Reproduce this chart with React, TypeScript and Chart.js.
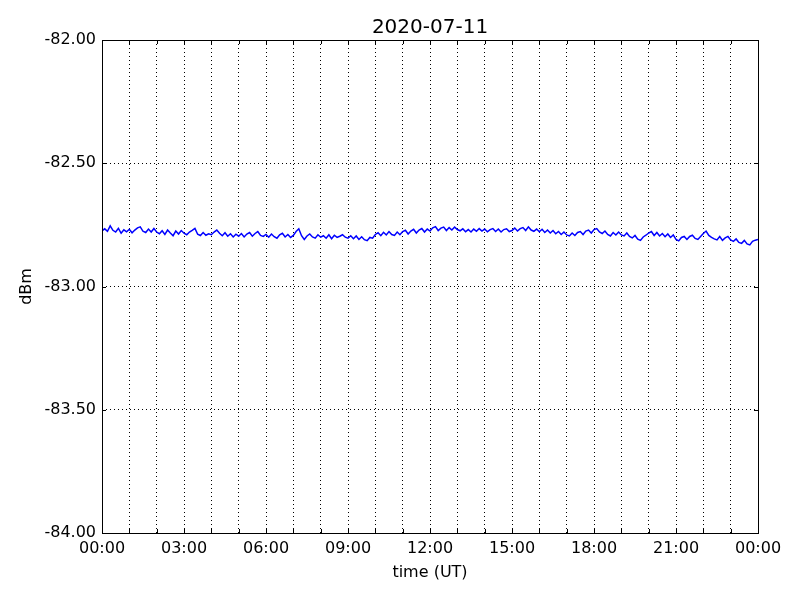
import React, { useEffect, useRef } from "react";
import { Chart, registerables } from "chart.js";

Chart.register(...registerables);

const chartTitle = "2020-07-11";
const xAxisTitle = "time (UT)";
const yAxisTitle = "dBm";
const sampleStepHours = 0.1; // one reading every 6 minutes
const yTickValues = [-84, -83.5, -83, -82.5, -82];

// Signal level (dBm), 6-minute samples from 00:00 to 24:00 UT
const signalDbm = [
  // 00h
  -82.774, -82.766, -82.776, -82.754, -82.772, -82.779, -82.764, -82.784, -82.770, -82.778,
  // 01h
  -82.768, -82.782, -82.771, -82.762, -82.758, -82.776, -82.781, -82.767, -82.779, -82.765,
  // 02h
  -82.779, -82.786, -82.774, -82.789, -82.771, -82.783, -82.794, -82.775, -82.787, -82.773,
  // 03h
  -82.784, -82.790, -82.779, -82.772, -82.764, -82.788, -82.793, -82.781, -82.792, -82.786,
  // 04h
  -82.790, -82.779, -82.771, -82.784, -82.794, -82.782, -82.796, -82.786, -82.799, -82.788,
  // 05h
  -82.796, -82.785, -82.799, -82.787, -82.781, -82.796, -82.785, -82.777, -82.793, -82.797,
  // 06h
  -82.789, -82.800, -82.787, -82.798, -82.804, -82.790, -82.784, -82.799, -82.789, -82.801,
  // 07h
  -82.793, -82.777, -82.766, -82.794, -82.809, -82.795, -82.787, -82.799, -82.804, -82.790,
  // 08h
  -82.800, -82.794, -82.804, -82.790, -82.806, -82.792, -82.801, -82.796, -82.790, -82.800,
  // 09h
  -82.804, -82.794, -82.806, -82.795, -82.809, -82.798, -82.810, -82.814, -82.801, -82.804,
  // 10h
  -82.789, -82.782, -82.794, -82.780, -82.791, -82.777, -82.789, -82.793, -82.779, -82.790,
  // 11h
  -82.777, -82.772, -82.787, -82.775, -82.768, -82.783, -82.771, -82.765, -82.779, -82.767,
  // 12h
  -82.775, -82.762, -82.757, -82.773, -82.763, -82.759, -82.773, -82.761, -82.771, -82.759,
  // 13h
  -82.769, -82.774, -82.766, -82.778, -82.769, -82.779, -82.767, -82.776, -82.765, -82.775,
  // 14h
  -82.767, -82.778, -82.769, -82.765, -82.777, -82.767, -82.779, -82.769, -82.766, -82.777,
  // 15h
  -82.773, -82.763, -82.775, -82.765, -82.761, -82.773, -82.758, -82.771, -82.776, -82.767,
  // 16h
  -82.778, -82.768, -82.781, -82.771, -82.783, -82.773, -82.786, -82.777, -82.789, -82.779,
  // 17h
  -82.791, -82.795, -82.783, -82.793, -82.781, -82.777, -82.789, -82.775, -82.771, -82.783,
  // 18h
  -82.769, -82.765, -82.779, -82.785, -82.775, -82.789, -82.795, -82.781, -82.791, -82.779,
  // 19h
  -82.791, -82.795, -82.783, -82.797, -82.803, -82.793, -82.808, -82.813, -82.799, -82.792,
  // 20h
  -82.783, -82.777, -82.793, -82.781, -82.795, -82.785, -82.798, -82.787, -82.801, -82.791,
  // 21h
  -82.809, -82.815, -82.801, -82.797, -82.809, -82.797, -82.792, -82.805, -82.809, -82.797,
  // 22h
  -82.785, -82.775, -82.793, -82.801, -82.807, -82.811, -82.797, -82.813, -82.803, -82.797,
  // 23h
  -82.811, -82.817, -82.807, -82.821, -82.825, -82.813, -82.827, -82.831, -82.817, -82.812,
  // 24h
  -82.809,
];

const framePlugin = {
  id: "mplFrame",
  afterDatasetsDraw(chart: any) {
    const { ctx, chartArea, scales } = chart;
    const { left, right, top, bottom } = chartArea;
    ctx.save();
    ctx.strokeStyle = "#000";
    ctx.lineWidth = 1;
    const tl = 4;
    ctx.beginPath();
    scales.x.ticks.forEach((t: any) => {
      const x = Math.round(scales.x.getPixelForValue(t.value)) + 0.5;
      ctx.moveTo(x, bottom);
      ctx.lineTo(x, bottom - tl);
      ctx.moveTo(x, top);
      ctx.lineTo(x, top + tl);
    });
    scales.y.ticks.forEach((t: any) => {
      const y = Math.round(scales.y.getPixelForValue(t.value)) + 0.5;
      ctx.moveTo(left, y);
      ctx.lineTo(left + tl, y);
      ctx.moveTo(right, y);
      ctx.lineTo(right - tl, y);
    });
    ctx.stroke();
    ctx.strokeRect(Math.round(left) + 0.5, Math.round(top) + 0.5, Math.round(right - left), Math.round(bottom - top));
    ctx.restore();
  },
};

function pad2(n: number) {
  return (n < 10 ? "0" : "") + n;
}

export default function App() {
  const canvasRef = useRef<HTMLCanvasElement | null>(null);

  useEffect(() => {
    document.body.style.margin = "0";
    const canvas = canvasRef.current;
    if (!canvas) return;
    Chart.defaults.font.family = "'DejaVu Sans', sans-serif";
    Chart.defaults.color = "#000";

    const points = signalDbm.map((v, i) => ({ x: i * sampleStepHours, y: v }));

    const chart = new Chart(canvas, {
      type: "line",
      data: {
        datasets: [
          {
            data: points,
            borderColor: "#0000ff",
            borderWidth: 1.5,
            pointRadius: 0,
            tension: 0,
            fill: false,
          },
        ],
      },
      options: {
        animation: false,
        responsive: true,
        maintainAspectRatio: false,
        layout: { padding: { left: 0, right: 42, top: 0, bottom: 0 } },
        plugins: {
          legend: { display: false },
          tooltip: { enabled: false },
          title: {
            display: true,
            fullSize: false,
            text: chartTitle,
            color: "#000",
            font: { size: 20, weight: "normal", lineHeight: 1.1 },
            padding: { top: 17, bottom: 1 },
          },
        },
        scales: {
          x: {
            type: "linear",
            min: 0,
            max: 24,
            afterFit: (scale: any) => {
              scale.height = 67;
            },
            ticks: {
              stepSize: 1,
              autoSkip: false,
              maxRotation: 0,
              padding: 6,
              font: { size: 16 },
              color: "#000",
              callback: (value: any) => {
                const h = Math.round(Number(value));
                if (h % 3 !== 0) return "";
                return pad2(h % 24) + ":00";
              },
            },
            grid: { color: "#000", lineWidth: 1, drawTicks: false },
            border: { display: false, dash: [1, 3] },
            title: {
              display: true,
              text: xAxisTitle,
              color: "#000",
              font: { size: 16 },
              padding: { top: 0, bottom: 18 },
            },
          },
          y: {
            type: "linear",
            min: yTickValues[0],
            max: yTickValues[yTickValues.length - 1],
            afterFit: (scale: any) => {
              scale.width = 102;
            },
            afterBuildTicks: (scale: any) => {
              scale.ticks = yTickValues.map((v) => ({ value: v }));
            },
            ticks: {
              padding: 6,
              font: { size: 16 },
              color: "#000",
              callback: (value: any) => Number(value).toFixed(2),
            },
            grid: { color: "#000", lineWidth: 1, drawTicks: false },
            border: { display: false, dash: [1, 3] },
            title: {
              display: true,
              text: yAxisTitle,
              color: "#000",
              font: { size: 16 },
              padding: { top: 17, bottom: 0 },
            },
          },
        },
      },
      plugins: [framePlugin],
    } as any);

    return () => chart.destroy();
  }, []);

  return (
    <div style={{ position: "fixed", left: 0, top: 0, width: 800, height: 600, background: "#fff" }}>
      <canvas ref={canvasRef} />
    </div>
  );
}
